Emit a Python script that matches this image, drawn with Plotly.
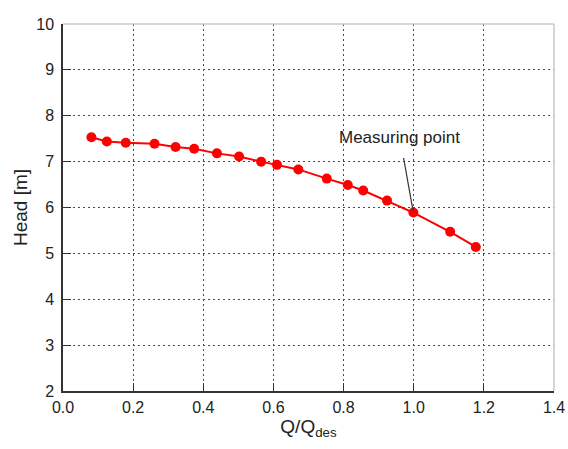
import plotly.graph_objects as go

# Pump head curve: normalised flow rate vs. head
flow_ratio = [0.081, 0.125, 0.179, 0.261, 0.321, 0.374, 0.439, 0.502, 0.565,
              0.610, 0.671, 0.752, 0.812, 0.856, 0.924, 0.999, 1.104, 1.177]
head_m = [7.53, 7.44, 7.41, 7.39, 7.32, 7.28, 7.18, 7.11, 7.00,
          6.93, 6.83, 6.63, 6.49, 6.37, 6.15, 5.89, 5.47, 5.14]

x_ticks = [0.0, 0.2, 0.4, 0.6, 0.8, 1.0, 1.2, 1.4]
x_tick_text = ["0.0", "0.2", "0.4", "0.6", "0.8", "1.0", "1.2", "1.4"]
y_ticks = [2, 3, 4, 5, 6, 7, 8, 9, 10]

measuring_index = 15  # point at Q/Qdes = 1.0

FONT = "Liberation Sans, Arial, sans-serif"
TEXT = "#222222"
AXIS_DARK = "#333333"
BORDER_LIGHT = "#c8c8c8"
GRID = "#4a4a4a"

# plot-area geometry (pixels)
L, R, T, B = 62.7, 13.7, 24, 58.3
W, H = 568, 449
px_per_x = (W - L - R) / 1.4
px_per_y = (H - T - B) / 8.0

fig = go.Figure()
fig.add_trace(go.Scatter(
    x=flow_ratio, y=head_m,
    mode="lines+markers",
    line=dict(color="#ff0000", width=2),
    marker=dict(color="#ff0000", size=10),
    showlegend=False,
))

# Label with a leader line to the measuring point
label_x, label_y = 400, 137
pt_x = L + px_per_x * flow_ratio[measuring_index]
pt_y = T + (10 - head_m[measuring_index]) * px_per_y
fig.add_annotation(
    x=flow_ratio[measuring_index], y=head_m[measuring_index],
    ax=label_x - pt_x, ay=label_y - pt_y,
    text="Measuring point",
    showarrow=True, arrowhead=0, arrowwidth=1.2, arrowcolor="#333333",
    standoff=2, startstandoff=10,
    font=dict(family=FONT, size=17, color=TEXT),
)

# Light top and right frame lines
fig.add_shape(type="line", xref="paper", yref="paper", x0=0, x1=1, y0=1, y1=1,
              line=dict(color=BORDER_LIGHT, width=1.5))
fig.add_shape(type="line", xref="paper", yref="paper", x0=1, x1=1, y0=0, y1=1,
              line=dict(color=BORDER_LIGHT, width=1.5))

common = dict(
    showgrid=True, gridcolor=GRID, griddash="2px,3px", gridwidth=1.4,
    showline=True, linecolor=AXIS_DARK, linewidth=1.5,
    ticks="inside", ticklen=8, tickcolor=AXIS_DARK, tickwidth=1.2,
    zeroline=False,
    tickfont=dict(family=FONT, size=16, color=TEXT),
)
fig.update_xaxes(
    range=[0, 1.4], tickvals=x_ticks, ticktext=x_tick_text,
    ticklabelstandoff=1,
    title=dict(text="Q/Q<sub>des</sub>", font=dict(family=FONT, size=19, color=TEXT),
               standoff=4),
    **common,
)
fig.update_yaxes(
    range=[2, 10], tickvals=y_ticks,
    ticklabelstandoff=4,
    title=dict(text="Head [m]", font=dict(family=FONT, size=19, color=TEXT),
               standoff=4),
    **common,
)

fig.update_layout(
    width=W, height=H,
    margin=dict(l=L, r=R, t=T, b=B, autoexpand=False),
    plot_bgcolor="white", paper_bgcolor="white",
)

fig.write_html("out.html")
